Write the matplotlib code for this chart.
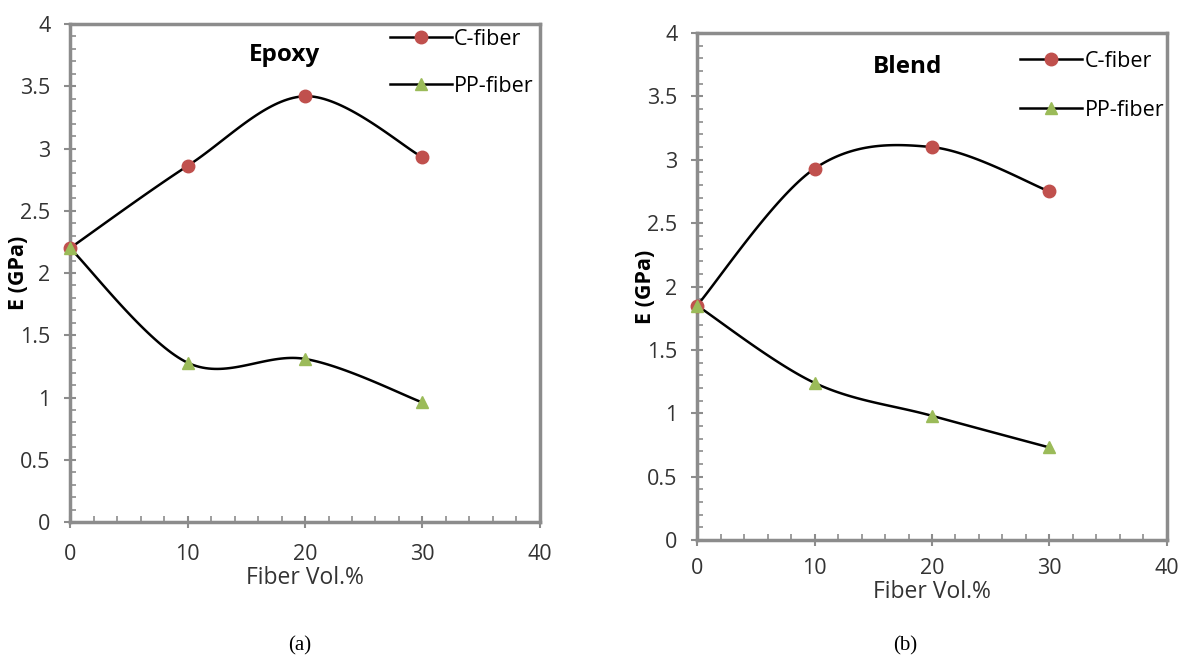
import numpy as np
import matplotlib
matplotlib.use("Agg")
import matplotlib.pyplot as plt
from matplotlib.ticker import MultipleLocator

plt.rcParams["font.family"] = ["Open Sans", "DejaVu Sans"]

fiber_vol = [0, 10, 20, 30]
epoxy_c = [2.20, 2.86, 3.42, 2.93]
epoxy_pp = [2.20, 1.28, 1.31, 0.96]
blend_c = [1.85, 2.93, 3.10, 2.75]
blend_pp = [1.85, 1.24, 0.98, 0.73]
y_ticks = [0, 0.5, 1, 1.5, 2, 2.5, 3, 3.5, 4]
y_ticklabels = ["0", "0.5", "1", "1.5", "2", "2.5", "3", "3.5", "4"]

RED = "#C0504D"
GREEN = "#9BBB59"
SPINE = "#8C8C8C"
TXT = "#333333"


def smooth(x, y, n=40):
    # Excel-style smoothed line: cubic bezier through the points
    x = np.asarray(x, float)
    y = np.asarray(y, float)
    px, py = [], []
    k = len(x)
    for i in range(k - 1):
        x0, y0 = (x[i - 1], y[i - 1]) if i > 0 else (x[i], y[i])
        x3, y3 = (x[i + 2], y[i + 2]) if i + 2 < k else (x[i + 1], y[i + 1])
        c1x = x[i] + (x[i + 1] - x0) / 6
        c1y = y[i] + (y[i + 1] - y0) / 6
        c2x = x[i + 1] - (x3 - x[i]) / 6
        c2y = y[i + 1] - (y3 - y[i]) / 6
        t = np.linspace(0, 1, n)
        bx = (1 - t) ** 3 * x[i] + 3 * (1 - t) ** 2 * t * c1x + 3 * (1 - t) * t ** 2 * c2x + t ** 3 * x[i + 1]
        by = (1 - t) ** 3 * y[i] + 3 * (1 - t) ** 2 * t * c1y + 3 * (1 - t) * t ** 2 * c2y + t ** 3 * y[i + 1]
        px.extend(bx)
        py.extend(by)
    return px, py


def panel(ax, c_vals, pp_vals, title, title_xy, leg_anchor, leg_space, xlab_y, xpad):
    sx, sy = smooth(fiber_vol, c_vals)
    ax.plot(sx, sy, color="black", lw=1.8, zorder=2)
    sx, sy = smooth(fiber_vol, pp_vals)
    ax.plot(sx, sy, color="black", lw=1.8, zorder=2)
    ax.plot(fiber_vol, c_vals, "o", color=RED, ms=9, zorder=3, clip_on=False)
    ax.plot(fiber_vol, pp_vals, "^", color=GREEN, ms=9, zorder=3, clip_on=False)

    # legend handles
    h1, = ax.plot([], [], "-o", color="black", mfc=RED, mec=RED, ms=9, lw=1.8)
    h2, = ax.plot([], [], "-^", color="black", mfc=GREEN, mec=GREEN, ms=9, lw=1.8)
    ax.legend([h1, h2], ["C-fiber", "PP-fiber"], loc="upper left", bbox_to_anchor=leg_anchor,
              frameon=False, handlelength=2.9, handletextpad=0.1, labelspacing=leg_space,
              fontsize=15.5, borderaxespad=0, borderpad=0)

    ax.text(title_xy[0], title_xy[1], title, transform=ax.transAxes, fontsize=17.5,
            fontweight="bold", ha="center", va="center")

    ax.set_xlim(0, 40)
    ax.set_ylim(0, 4)
    ax.xaxis.set_major_locator(MultipleLocator(10))
    ax.xaxis.set_minor_locator(MultipleLocator(2))
    ax.yaxis.set_minor_locator(MultipleLocator(0.1))
    ax.set_yticks(y_ticks)
    ax.set_yticklabels(y_ticklabels)
    ax.tick_params(which="major", direction="inout", length=8, width=1.5, color=SPINE,
                   labelsize=15.5, labelcolor=TXT)
    ax.tick_params(axis="y", which="major", pad=10)
    ax.tick_params(axis="x", which="major", pad=xpad)
    ax.tick_params(which="minor", direction="in", length=4, width=1.2, color=SPINE)
    for s in ax.spines.values():
        s.set_color(SPINE)
        s.set_linewidth(2.5)
    ax.set_xlabel("Fiber Vol.%", fontsize=16.5, color=TXT)
    ax.xaxis.set_label_coords(0.5, xlab_y)
    ax.xaxis.label.set_va("center")
    ax.set_ylabel("E (GPa)", fontsize=15.5, fontweight="bold")
    ax.yaxis.set_label_coords(-0.11, 0.5)
    ax.yaxis.label.set_va("center")


fig = plt.figure(figsize=(11.79, 6.69), dpi=100)
ax1 = fig.add_axes([0.0594, 0.2197, 0.3986, 0.7444])
ax2 = fig.add_axes([0.5912, 0.1928, 0.3986, 0.7578])

panel(ax1, epoxy_c, epoxy_pp, "Epoxy", (0.457, 0.938), (0.68, 0.99), 1.2, -0.112, 12)
panel(ax2, blend_c, blend_pp, "Blend", (0.447, 0.933), (0.687, 0.965), 1.3, -0.102, 9)

fig.text(0.2545, 0.028, "(a)", fontsize=15, family="Liberation Serif", ha="center")
fig.text(0.7676, 0.028, "(b)", fontsize=15, family="Liberation Serif", ha="center")

fig.savefig("out.png", dpi=100)
